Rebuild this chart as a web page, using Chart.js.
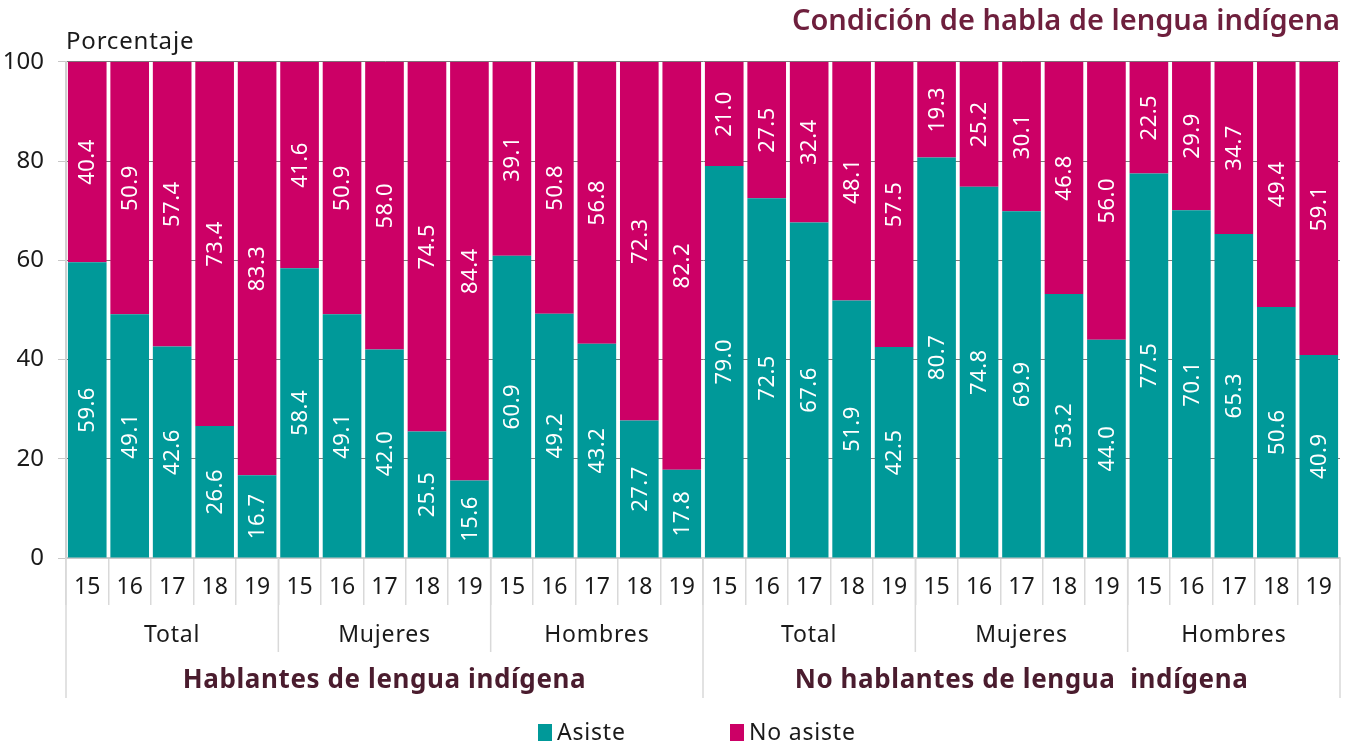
<!DOCTYPE html>
<html>
<head>
<meta charset="utf-8">
<script src="https://cdn.jsdelivr.net/npm/chart.js"></script>
<style>
  html, body { margin: 0; padding: 0; background: #ffffff; }
  #wrap { width: 1358px; height: 746px; }
</style>
</head>
<body>
<div id="wrap"><canvas id="chart" width="1358" height="746"></canvas></div>
<script>
const AGES = ["15", "16", "17", "18", "19", "15", "16", "17", "18", "19",
  "15", "16", "17", "18", "19", "15", "16", "17", "18", "19",
  "15", "16", "17", "18", "19", "15", "16", "17", "18", "19"];
const SEX_GROUPS = ["Total", "Mujeres", "Hombres", "Total", "Mujeres", "Hombres"];
const LANG_GROUPS = ["Hablantes de lengua indígena", "No hablantes de lengua  indígena"];

const ASISTE = [59.6, 49.1, 42.6, 26.6, 16.7, 58.4, 49.1, 42.0, 25.5, 15.6,
  60.9, 49.2, 43.2, 27.7, 17.8, 79.0, 72.5, 67.6, 51.9, 42.5,
  80.7, 74.8, 69.9, 53.2, 44.0, 77.5, 70.1, 65.3, 50.6, 40.9];
const NO_ASISTE = [40.4, 50.9, 57.4, 73.4, 83.3, 41.6, 50.9, 58.0, 74.5, 84.4,
  39.1, 50.8, 56.8, 72.3, 82.2, 21.0, 27.5, 32.4, 48.1, 57.5,
  19.3, 25.2, 30.1, 46.8, 56.0, 22.5, 29.9, 34.7, 49.4, 59.1];
const SERIES_NAMES = ["Asiste", "No asiste"];

const TEAL = "#009999";
const MAGENTA = "#cc0066";
const FONT = "'Noto Sans', 'Open Sans', sans-serif";
const SEP_COLOR = "#d9d9d9";

// white rotated values in the middle of each segment
const valueLabels = {
  id: "valueLabels",
  afterDatasetsDraw(chart) {
    const { ctx } = chart;
    ctx.save();
    ctx.fillStyle = "#ffffff";
    ctx.font = `22px ${FONT}`;
    ctx.letterSpacing = "0.5px";
    ctx.textAlign = "center";
    ctx.textBaseline = "middle";
    chart.data.datasets.forEach((ds, di) => {
      chart.getDatasetMeta(di).data.forEach((bar, i) => {
        const y = (bar.y + bar.base) / 2;
        ctx.save();
        ctx.translate(bar.x, y);
        ctx.rotate(-Math.PI / 2);
        ctx.fillText(ds.data[i].toFixed(1), 0, 1);
        ctx.restore();
      });
    });
    ctx.restore();
  }
};

// group rows under the axis, separators, y title and legend
const extras = {
  id: "extras",
  afterDraw(chart) {
    const { ctx, chartArea } = chart;
    const xs = chart.scales.x;
    const n = AGES.length;
    const edge = (i) => {
      if (i <= 0) return chartArea.left;
      if (i >= n) return chartArea.right;
      return (xs.getPixelForValue(i - 1) + xs.getPixelForValue(i)) / 2;
    };
    const base = chartArea.bottom;
    ctx.save();
    ctx.strokeStyle = SEP_COLOR;
    ctx.lineWidth = 1.5;
    const line = (x, y2) => {
      ctx.beginPath();
      ctx.moveTo(x, base);
      ctx.lineTo(x, y2);
      ctx.stroke();
    };
    const perSex = n / SEX_GROUPS.length;
    const perLang = n / LANG_GROUPS.length;
    for (let g = 0; g <= SEX_GROUPS.length; g++) {
      const i = g * perSex;
      line(edge(i), i % perLang === 0 ? base + 140 : base + 94);
    }

    ctx.fillStyle = "#1a1a1a";
    ctx.font = `23px ${FONT}`;
    ctx.letterSpacing = "0.8px";
    ctx.textAlign = "center";
    ctx.textBaseline = "middle";
    SEX_GROUPS.forEach((name, g) => {
      ctx.fillText(name, (edge(g * perSex) + edge((g + 1) * perSex)) / 2, base + 77);
    });

    ctx.fillStyle = "#4a1c2e";
    ctx.font = `bold 26px ${FONT}`;
    ctx.letterSpacing = "0.6px";
    LANG_GROUPS.forEach((name, g) => {
      ctx.fillText(name, (edge(g * perLang) + edge((g + 1) * perLang)) / 2, base + 123);
    });

    ctx.fillStyle = "#1a1a1a";
    ctx.font = `24px ${FONT}`;
    ctx.letterSpacing = "0.8px";
    ctx.textAlign = "left";
    ctx.fillText("Porcentaje", chartArea.left, 42);

    // legend
    const items = [
      { text: SERIES_NAMES[0], color: TEAL, x: 538 },
      { text: SERIES_NAMES[1], color: MAGENTA, x: 730 }
    ];
    ctx.font = `23px ${FONT}`;
    items.forEach((it) => {
      ctx.fillStyle = it.color;
      ctx.fillRect(it.x, 724, 14, 17);
      ctx.fillStyle = "#1a1a1a";
      ctx.fillText(it.text, it.x + 19, 733);
    });
    ctx.restore();
  }
};

const CHART = new Chart(document.getElementById("chart"), {
  type: "bar",
  data: {
    labels: AGES,
    datasets: [{
      label: SERIES_NAMES[0],
      data: ASISTE,
      backgroundColor: TEAL,
      barPercentage: 0.91,
      categoryPercentage: 1
    }, {
      label: SERIES_NAMES[1],
      data: NO_ASISTE,
      backgroundColor: MAGENTA,
      barPercentage: 0.91,
      categoryPercentage: 1
    }]
  },
  options: {
    responsive: false,
    animation: false,
    events: [],
    layout: { padding: { left: 0, right: 18, top: 0, bottom: 0 } },
    plugins: {
      legend: { display: false },
      tooltip: { enabled: false },
      title: {
        display: true,
        text: "Condición de habla de lengua indígena",
        align: "end",
        color: "#6e1f3d",
        font: { family: FONT, size: 29, weight: "600" },
        padding: { top: 4, bottom: 23 }
      }
    },
    scales: {
      x: {
        stacked: true,
        grid: {
          display: true,
          drawOnChartArea: false,
          drawTicks: true,
          tickLength: 47,
          offset: true,
          color: SEP_COLOR,
          lineWidth: 1.5
        },
        border: { color: "#c8c8c8", width: 2 },
        ticks: {
          autoSkip: false,
          maxRotation: 0,
          padding: -31,
          color: "#1a1a1a",
          font: { family: FONT, size: 23 }
        },
        afterFit: (scale) => { scale.height = 188; }
      },
      y: {
        stacked: true,
        min: 0,
        max: 100,
        ticks: {
          stepSize: 20,
          padding: 14,
          color: "#1a1a1a",
          font: { family: FONT, size: 24 }
        },
        grid: { color: "#7a7a7a", tickColor: "#c8c8c8", tickLength: 8, lineWidth: 1 },
        border: { color: "#d0d0d0", width: 2 },
        afterFit: (scale) => { scale.width = 66; }
      }
    }
  },
  plugins: [valueLabels, extras]
});
</script>
</body>
</html>
